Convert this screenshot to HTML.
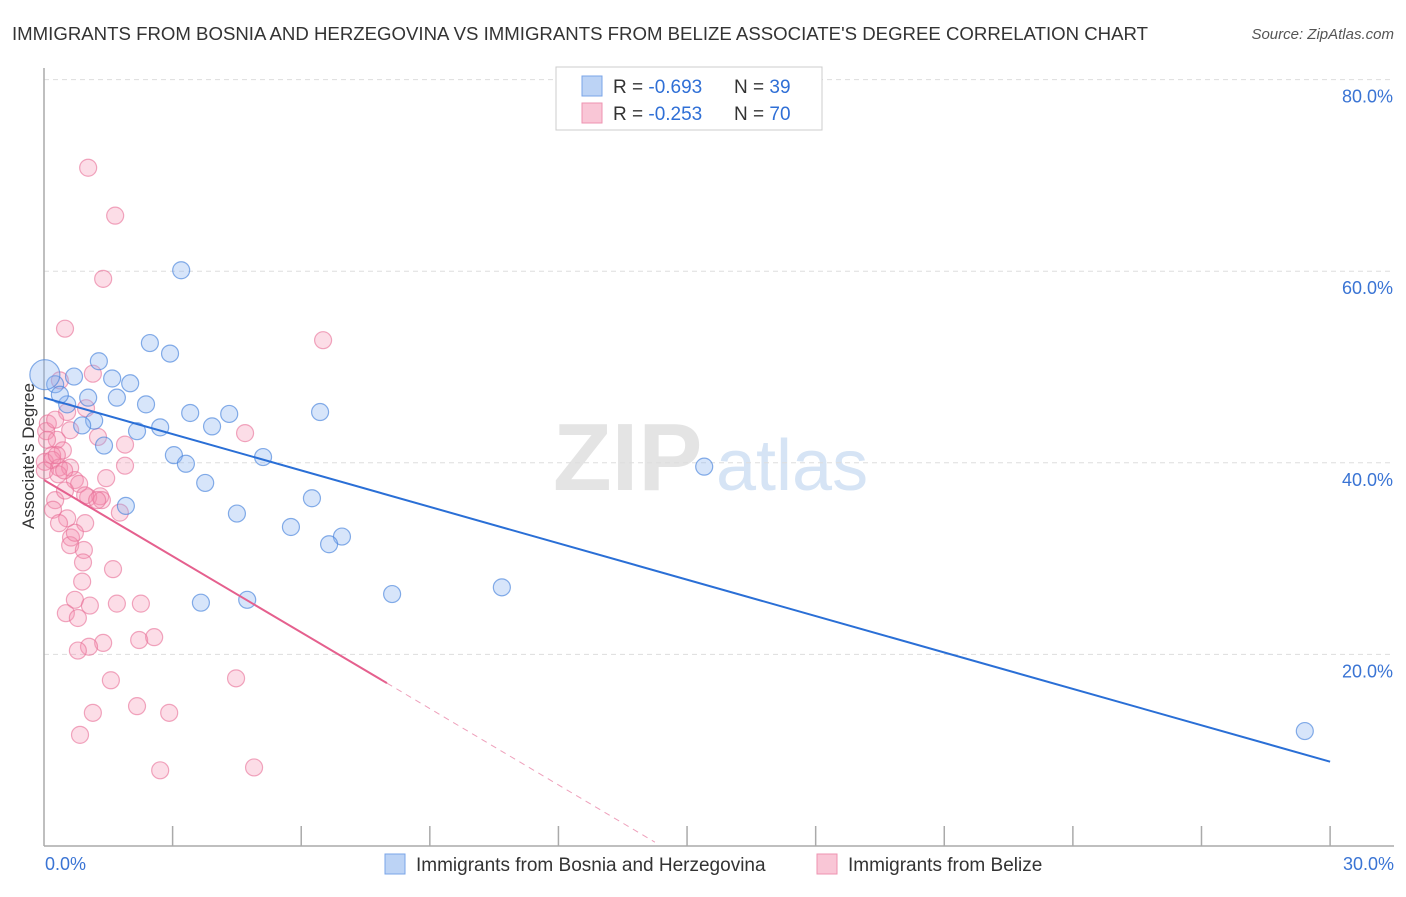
<!DOCTYPE html>
<html><head><meta charset="utf-8"><style>
body{margin:0;background:#fff;font-family:"Liberation Sans",sans-serif;}
svg text{font-family:"Liberation Sans",sans-serif;}
</style></head><body>
<svg id="chart" width="1406" height="892" xmlns="http://www.w3.org/2000/svg">
<text x="12" y="40" font-size="18" fill="#333" textLength="1136" lengthAdjust="spacingAndGlyphs">IMMIGRANTS FROM BOSNIA AND HERZEGOVINA VS IMMIGRANTS FROM BELIZE ASSOCIATE'S DEGREE CORRELATION CHART</text>
<text x="1394" y="39" font-size="15" fill="#555" font-style="italic" text-anchor="end">Source: ZipAtlas.com</text>
<text x="553" y="490" font-size="96" fill="#e4e4e4" font-family="Liberation Serif" font-weight="bold">ZIP</text>
<text x="716" y="490" font-size="72" fill="#d6e4f5">atlas</text>
<g id="grid"></g>
<g id="axes"></g>
<g id="pinkpts"></g>
<g id="bluepts"></g>
<g id="trends"></g>
<text transform="translate(34,456) rotate(-90)" font-size="17" fill="#333" text-anchor="middle">Associate's Degree</text>
<g>
<rect x="556" y="67" width="266" height="63" fill="#fff" stroke="#ccc"/>
<rect x="582" y="76" width="20" height="20" fill="#bcd3f5" stroke="#7aa5e8"/>
<rect x="582" y="103" width="20" height="20" fill="#f9c6d6" stroke="#ee93b0"/>
<text x="613" y="93" font-size="19" fill="#333">R = <tspan fill="#2f6fd6">-0.693</tspan></text>
<text x="734" y="93" font-size="19" fill="#333">N = <tspan fill="#2f6fd6">39</tspan></text>
<text x="613" y="120" font-size="19" fill="#333">R = <tspan fill="#2f6fd6">-0.253</tspan></text>
<text x="734" y="120" font-size="19" fill="#333">N = <tspan fill="#2f6fd6">70</tspan></text>
</g>
<g>
<rect x="385" y="854" width="20" height="20" fill="#bcd3f5" stroke="#7aa5e8"/>
<text x="416" y="871" font-size="19" fill="#333">Immigrants from Bosnia and Herzegovina</text>
<rect x="817" y="854" width="20" height="20" fill="#f9c6d6" stroke="#ee93b0"/>
<text x="848" y="871" font-size="19" fill="#333">Immigrants from Belize</text>
</g>
</svg>
<script>
const yTicks=[20,40,60,80];
const yTickLabels=["20.0%","40.0%","60.0%","80.0%"];
const xTickLabels=["0.0%","30.0%"];
const blueX=[3.20,2.47,2.94,1.28,0.70,1.59,2.01,0.26,0.02,1.03,1.70,2.38,0.54,3.41,4.32,6.44,1.17,3.92,2.71,0.89,2.17,1.40,3.03,3.31,5.11,15.40,3.76,1.91,6.25,4.50,5.76,6.95,6.65,8.12,10.68,3.66,4.74,29.41,0.37];
const blueY=[60.1,52.5,51.4,50.6,49.0,48.8,48.3,48.2,49.2,46.8,46.8,46.1,46.1,45.2,45.1,45.3,44.4,43.8,43.7,43.9,43.3,41.8,40.8,39.9,40.6,39.6,37.9,35.5,36.3,34.7,33.3,32.3,31.5,26.3,27.0,25.4,25.7,12.0,47.1];
const pinkX=[1.03,1.66,1.38,0.49,6.51,1.14,0.37,0.54,0.98,4.69,0.09,0.05,0.30,1.26,1.89,0.44,0.19,0.02,0.19,1.89,0.35,0.61,0.02,0.33,1.45,0.72,0.82,1.31,1.03,1.35,0.26,0.21,0.54,0.35,0.96,0.63,0.61,0.93,0.91,0.89,1.61,0.72,1.07,1.70,2.26,0.51,0.79,1.38,1.05,2.22,2.57,0.79,1.56,4.48,2.17,1.14,2.92,0.84,2.71,4.90,0.49,0.61,0.26,0.96,1.24,0.30,0.47,1.77,0.72,0.07];
const pinkY=[70.8,65.8,59.2,54.0,52.8,49.3,48.6,45.3,45.7,43.1,44.1,43.3,42.4,42.7,41.9,41.3,40.8,40.1,40.3,39.7,39.5,39.5,39.2,38.8,38.4,38.2,37.8,36.5,36.4,36.1,36.1,35.1,34.2,33.7,33.7,32.2,31.4,30.9,29.6,27.6,28.9,25.7,25.1,25.3,25.3,24.3,23.8,21.2,20.8,21.5,21.8,20.4,17.3,17.5,14.6,13.9,13.9,11.6,7.9,8.2,37.1,43.4,44.5,36.6,36.1,40.8,39.2,34.8,32.7,42.4];
const blueTrend=[[0,46.8],[30,8.8]];
const pinkTrend=[[0,38.2],[8.0,17.0]];
const pinkTrendDash=[[8.0,17.0],[14.25,0.4]];
const NS="http://www.w3.org/2000/svg";
const X=v=>44+v*42.87, Y=v=>846-v*9.58;
function mk(tag,attrs,parent){const e=document.createElementNS(NS,tag);for(const k in attrs)e.setAttribute(k,attrs[k]);document.getElementById(parent).appendChild(e);return e;}
yTicks.forEach((t,i)=>{
 const l=mk('line',{x1:44,x2:1394,y1:Y(t),y2:Y(t),stroke:'#ddd','stroke-dasharray':'5,4'},'grid');
 
 
 const tx=mk('text',{x:1393,y:Y(t)+23,'font-size':18,fill:'#3a74d4','text-anchor':'end'},'grid');
 tx.textContent=yTickLabels[i];
 
 
});
mk('line',{x1:44,x2:44,y1:68,y2:846,stroke:'#aaa','stroke-width':1.5},'axes');
mk('line',{x1:44,x2:1394,y1:846,y2:846,stroke:'#aaa','stroke-width':1.5},'axes');
for(let i=1;i<=10;i++){const t=mk('line',{x1:X(i*3),x2:X(i*3),y1:826,y2:846,stroke:'#aaa','stroke-width':1.5},'axes');}
[[0,'start',45],[30,'end',1394]].forEach((d,i)=>{const t=mk('text',{x:d[2],y:870,'font-size':18,fill:'#3a74d4','text-anchor':d[1]},'axes');t.textContent=xTickLabels[i];});
pinkX.forEach((v,i)=>{const c=mk('circle',{cx:X(v),cy:Y(pinkY[i]),r:8.5,fill:'rgba(244,143,177,0.3)',stroke:'rgba(232,110,150,0.6)','stroke-width':1.2},'pinkpts');});
blueX.forEach((v,i)=>{const c=mk('circle',{cx:X(v),cy:Y(blueY[i]),r:(i===8?15:8.5),fill:'rgba(140,180,240,0.35)',stroke:'rgba(70,130,220,0.65)','stroke-width':1.2},'bluepts');});
const bl=mk('line',{x1:X(blueTrend[0][0]),y1:Y(blueTrend[0][1]),x2:X(blueTrend[1][0]),y2:Y(blueTrend[1][1]),stroke:'#2a6fd6','stroke-width':2},'trends');


const pl=mk('line',{x1:X(pinkTrend[0][0]),y1:Y(pinkTrend[0][1]),x2:X(pinkTrend[1][0]),y2:Y(pinkTrend[1][1]),stroke:'#e5608e','stroke-width':2},'trends');


const pd=mk('line',{x1:X(pinkTrendDash[0][0]),y1:Y(pinkTrendDash[0][1]),x2:X(pinkTrendDash[1][0]),y2:Y(pinkTrendDash[1][1]),stroke:'#eea0bb','stroke-width':1,'stroke-dasharray':'6,5'},'trends');


</script>
</body></html>
